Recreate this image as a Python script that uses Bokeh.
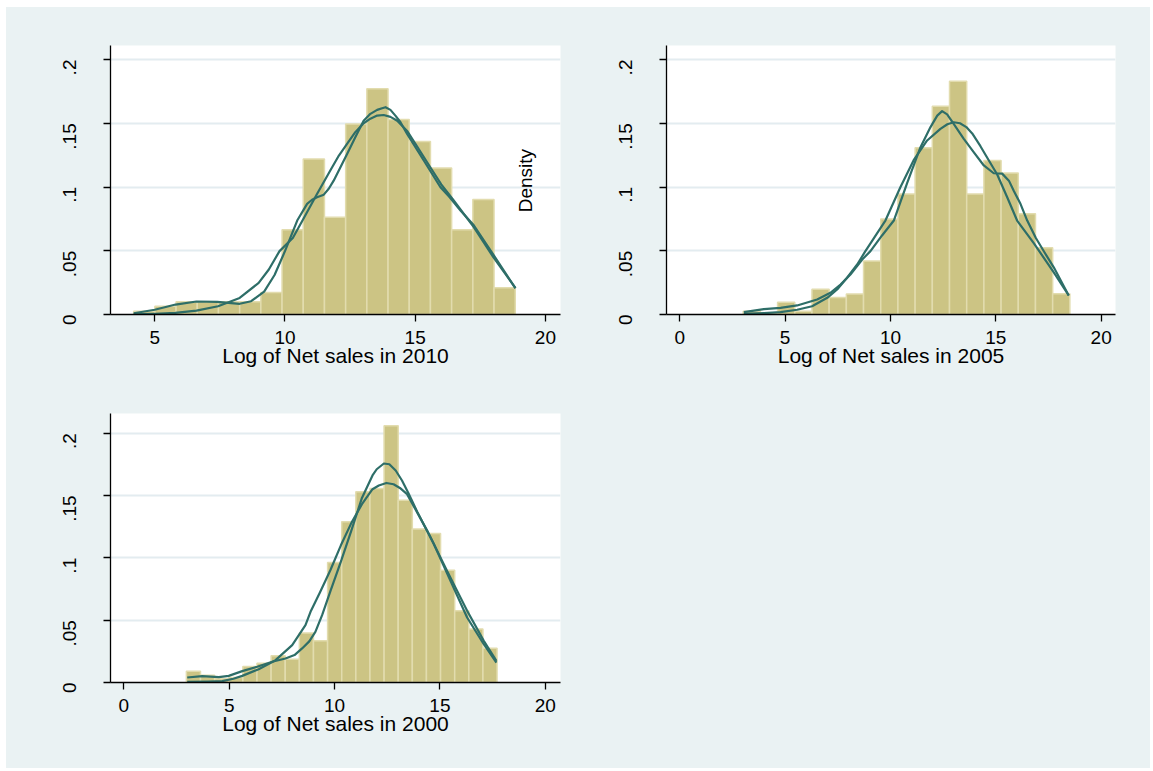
import math
from bokeh.plotting import figure
from bokeh.layouts import column, row
from bokeh.models import FixedTicker, Label, Spacer
from bokeh.embed import file_html
from bokeh.resources import INLINE

BG = "#eaf2f3"
BAR_FILL = "#ccc484"
BAR_LINE = "#e2dcae"
CURVE = "#2e6e68"
GRID = "#e3ecf0"
FONT = "Liberation Sans"

# ---------------- data: 2010 ----------------
bin_start_2010 = 4.19
bin_width_2010 = 0.814
hist_2010 = [0.0026, 0.0064, 0.0100, 0.0100, 0.0100, 0.0100, 0.0172, 0.0664, 0.1220,
             0.0763, 0.1495, 0.1770, 0.1530, 0.1357, 0.1150, 0.0664, 0.0902, 0.0209]
kdA_2010_x = [4.19, 5.0, 5.8, 6.6, 7.4, 8.26, 8.7, 9.2, 9.6, 10.0, 10.47, 10.85, 11.04, 11.23, 11.49,
              11.68, 11.87, 12.13, 12.39, 12.7, 13.02, 13.28, 13.54, 13.73, 13.86, 14.05, 14.24, 14.43,
              14.69, 15.33, 15.97, 16.3, 16.74, 17.25, 18.0, 18.85]
kdA_2010_y = [0.001, 0.0037, 0.0078, 0.0102, 0.0099, 0.0084, 0.0104, 0.018, 0.031, 0.0497, 0.0737,
              0.0868, 0.090, 0.092, 0.094, 0.0986, 0.105, 0.1155, 0.126, 0.139, 0.152, 0.1574, 0.1605,
              0.1618, 0.1626, 0.1605, 0.156, 0.151, 0.1417, 0.1208, 0.0998, 0.0925, 0.0816, 0.070,
              0.047, 0.0205]
kdB_2010_x = [4.19, 5.0, 5.79, 6.6, 7.43, 8.26, 8.99, 9.38, 9.79, 10.3, 10.72, 11.23, 11.74, 12.07,
              12.39, 12.7, 13.02, 13.28, 13.54, 13.79, 14.05, 14.31, 14.69, 15.1, 15.58, 16.0, 16.48,
              17.25, 18.0, 18.85]
kdB_2010_y = [0.0002, 0.0006, 0.0013, 0.0031, 0.0065, 0.013, 0.0248, 0.0353, 0.0497, 0.060, 0.0755,
              0.0945, 0.113, 0.1247, 0.134, 0.143, 0.150, 0.1536, 0.156, 0.1565, 0.155, 0.152, 0.144,
              0.131, 0.1155, 0.102, 0.0894, 0.0685, 0.045, 0.0209]

# ---------------- data: 2005 ----------------
bin_start_2005 = 3.01
bin_width_2005 = 0.816
hist_2005 = [0.0026, 0.0013, 0.0097, 0.0026, 0.0198, 0.0133, 0.0160, 0.0420, 0.0750, 0.0946,
             0.1307, 0.1634, 0.1830, 0.0946, 0.1208, 0.1110, 0.0790, 0.0523, 0.0162]
kdA_2005_x = [3.04, 3.99, 4.78, 5.57, 6.52, 7.15, 7.63, 8.1, 8.66, 9.05, 9.6, 10.16, 10.79, 11.42,
              11.9, 12.22, 12.45, 12.69, 13.0, 13.48, 13.95, 14.43, 14.9, 15.3, 15.62, 15.85, 16.17,
              16.49, 16.9, 17.3, 17.75, 18.46]
kdA_2005_y = [0.0018, 0.0042, 0.0052, 0.0071, 0.0118, 0.017, 0.0235, 0.0314, 0.0431, 0.0497, 0.062,
              0.0737, 0.103, 0.131, 0.147, 0.156, 0.1595, 0.157, 0.1496, 0.1378, 0.1273, 0.1169,
              0.1108, 0.1105, 0.105, 0.097, 0.0868, 0.0737, 0.060, 0.049, 0.037, 0.0149]
kdB_2005_x = [3.04, 4.0, 4.78, 5.57, 6.28, 7.0, 7.47, 7.94, 8.42, 8.81, 9.3, 9.76, 10.47, 11.1,
              11.74, 12.37, 12.7, 13.0, 13.3, 13.6, 13.88, 14.27, 14.67, 15.06, 15.54, 16.01, 16.8,
              17.75, 18.46]
kdB_2005_y = [0.0005, 0.0011, 0.0018, 0.0037, 0.0065, 0.0131, 0.0196, 0.0288, 0.0392, 0.0497, 0.062,
              0.0737, 0.0998, 0.121, 0.1365, 0.1456, 0.1492, 0.1508, 0.150, 0.147, 0.142, 0.132,
              0.1208, 0.110, 0.092, 0.0737, 0.056, 0.033, 0.0149]

# ---------------- data: 2000 ----------------
bin_start_2000 = 2.97
bin_width_2000 = 0.67
hist_2000 = [0.0091, 0.0059, 0.0030, 0.0040, 0.0128, 0.0155, 0.0214, 0.0187, 0.0396, 0.0334, 0.0962,
             0.1288, 0.1529, 0.1556, 0.2058, 0.1462, 0.1230, 0.1195, 0.0901, 0.0575, 0.0428, 0.0275]
kdA_2000_x = [3.01, 3.72, 4.51, 4.98, 5.62, 6.33, 7.04, 7.67, 8.1, 8.46, 8.8, 9.09, 9.41, 9.8, 10.3,
              10.8, 11.3, 11.8, 12.0, 12.34, 12.6, 12.9, 13.2, 13.5, 13.92, 14.71, 15.5, 16.29, 17.08,
              17.68]
kdA_2000_y = [0.004, 0.0051, 0.0043, 0.0053, 0.0091, 0.0126, 0.0166, 0.0192, 0.022, 0.0273, 0.033,
              0.0406, 0.054, 0.073, 0.097, 0.122, 0.148, 0.166, 0.171, 0.1756, 0.175, 0.170, 0.162,
              0.152, 0.137, 0.111, 0.0815, 0.0521, 0.0307, 0.016]
kdB_2000_x = [3.01, 4.0, 4.67, 5.2, 5.62, 6.4, 7.2, 7.99, 8.62, 8.86, 9.3, 9.8, 10.3, 10.8, 11.3, 11.8,
              12.1, 12.46, 12.8, 13.1, 13.44, 13.9, 14.4, 15.34, 16.29, 17.08, 17.68]
kdB_2000_y = [0.0005, 0.0008, 0.0011, 0.003, 0.0053, 0.0107, 0.0179, 0.030, 0.046, 0.0567, 0.072,
              0.09, 0.11, 0.128, 0.143, 0.155, 0.158, 0.160, 0.159, 0.156, 0.151, 0.137, 0.1216,
              0.0895, 0.0575, 0.0334, 0.0174]

y_ticks = [0, 0.05, 0.1, 0.15, 0.2]
y_tick_labels = {0: "0", 0.05: ".05", 0.1: ".1", 0.15: ".15", 0.2: ".2"}


def make_panel(width, height, bl, br, bt, bb, xr, yr, xticks, xlabel):
    p = figure(width=width, height=height, x_range=xr, y_range=yr, title=None,
               output_backend="svg", toolbar_location=None,
               min_border_left=bl, min_border_right=br, min_border_top=bt, min_border_bottom=bb)
    p.background_fill_color = "white"
    p.border_fill_color = BG
    p.outline_line_color = None
    p.xgrid.visible = False
    p.ygrid.ticker = FixedTicker(ticks=[0.05, 0.1, 0.15, 0.2])
    p.ygrid.grid_line_color = GRID
    p.ygrid.grid_line_width = 2
    for ax in (p.xaxis[0], p.yaxis[0]):
        ax.axis_line_color = "black"
        ax.axis_line_width = 1.3
        ax.major_tick_line_color = "black"
        ax.major_tick_line_width = 1.3
        ax.major_tick_out = 7
        ax.major_tick_in = 0
        ax.minor_tick_out = 0
        ax.minor_tick_in = 0
        ax.major_label_text_font = FONT
        ax.major_label_text_font_size = "19px"
        ax.major_label_text_color = "black"
    p.xaxis.ticker = FixedTicker(ticks=xticks)
    p.xaxis.major_label_standoff = 9
    p.xaxis.axis_label = xlabel
    p.xaxis.axis_label_text_font = FONT
    p.xaxis.axis_label_text_font_size = "21px"
    p.xaxis.axis_label_text_font_style = "normal"
    p.xaxis.axis_label_text_color = "black"
    p.xaxis.axis_label_standoff = -3
    p.yaxis.ticker = FixedTicker(ticks=y_ticks)
    p.yaxis.major_label_overrides = y_tick_labels
    p.yaxis.major_label_orientation = math.pi / 2
    p.yaxis.major_label_standoff = 34
    return p


def draw(p, start, w, hist, ax_, ay_, bx_, by_):
    lefts = [start + i * w for i in range(len(hist))]
    rights = [l + w for l in lefts]
    p.quad(left=lefts, right=rights, bottom=0, top=hist,
           fill_color=BAR_FILL, line_color=BAR_LINE, line_width=1.5)
    p.line(bx_, by_, line_color=CURVE, line_width=2.2, line_join="round")
    p.line(ax_, ay_, line_color=CURVE, line_width=2.2, line_join="round")


p1 = make_panel(562, 386, 104, 8, 38, 79, (3.30, 20.58), (0, 0.211), [5, 10, 15, 20],
                "Log of Net sales in 2010")
draw(p1, bin_start_2010, bin_width_2010, hist_2010, kdA_2010_x, kdA_2010_y, kdB_2010_x, kdB_2010_y)
p1.add_layout(Label(x=19.23, y=0.105, text="Density", angle=math.pi / 2,
                    text_align="center", text_baseline="middle",
                    text_font=FONT, text_font_size="19px", text_color="black"))

p2 = make_panel(582, 386, 98, 35, 38, 79, (-0.63, 20.68), (0, 0.211), [0, 5, 10, 15, 20],
                "Log of Net sales in 2005")
draw(p2, bin_start_2005, bin_width_2005, hist_2005, kdA_2005_x, kdA_2005_y, kdB_2005_x, kdB_2005_y)

p3 = make_panel(562, 375, 104, 8, 20, 86, (-0.63, 20.72), (0, 0.2157), [0, 5, 10, 15, 20],
                "Log of Net sales in 2000")
draw(p3, bin_start_2000, bin_width_2000, hist_2000, kdA_2000_x, kdA_2000_y, kdB_2000_x, kdB_2000_y)

p4 = figure(width=582, height=375, output_backend="svg", toolbar_location=None, title=None,
            x_axis_type=None, y_axis_type=None, min_border=0)
p4.background_fill_color = BG
p4.border_fill_color = BG
p4.outline_line_color = None
p4.xgrid.visible = False
p4.ygrid.visible = False

bgstyle = {"background-color": BG}
grid = column(row(p1, p2, styles=bgstyle), row(p3, p4, styles=bgstyle), styles=bgstyle)
layout = column(Spacer(width=1150, height=7),
                row(Spacer(width=6, height=761), grid))
open("out.html", "w").write(file_html(layout, INLINE))
